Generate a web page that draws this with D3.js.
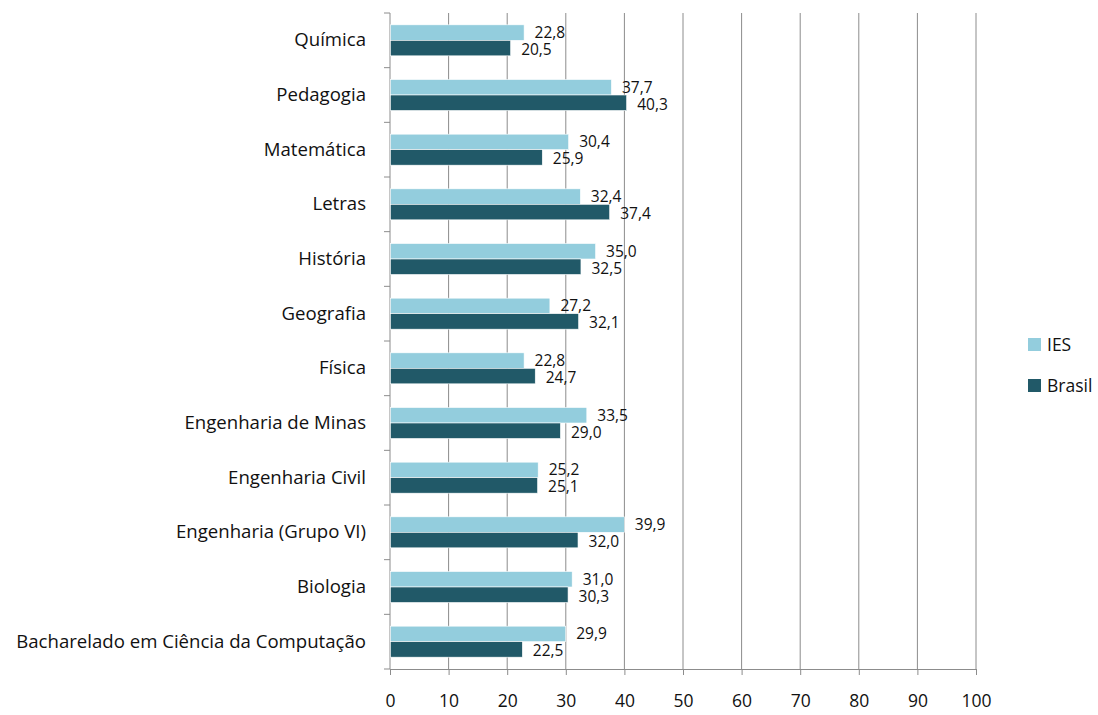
<!DOCTYPE html>
<html lang="pt">
<head>
<meta charset="utf-8">
<title>IES x Brasil</title>
<script src="https://cdn.jsdelivr.net/npm/d3@7"></script>
<style>
  body { margin: 0; background: #fff; }
  svg text { font-family: "Open Sans", Lato, sans-serif; fill: #111; }
</style>
</head>
<body>
<div id="chart"></div>
<script>
// ---- data (top to bottom, as in the chart) ----
var categories = ["Química", "Pedagogia", "Matemática", "Letras", "História", "Geografia",
  "Física", "Engenharia de Minas", "Engenharia Civil", "Engenharia (Grupo VI)",
  "Biologia", "Bacharelado em Ciência da Computação"];
var seriesNames = ["IES", "Brasil"];
var iesValues    = [22.8, 37.7, 30.4, 32.4, 35.0, 27.2, 22.8, 33.5, 25.2, 39.9, 31.0, 29.9];
var brasilValues = [20.5, 40.3, 25.9, 37.4, 32.5, 32.1, 24.7, 29.0, 25.1, 32.0, 30.3, 22.5];
var xTicks = [0, 10, 20, 30, 40, 50, 60, 70, 80, 90, 100];
var colors = ["#93cddd", "#215968"];

var width = 1098, height = 715;
// note: "top" is taken by window.top, so use plot* names
var plotLeft = 390, plotRight = 976, plotTop = 13, plotBottom = 669;

var svg = d3.select("#chart").append("svg")
  .attr("width", width)
  .attr("height", height);

var x = d3.scaleLinear().domain([0, 100]).range([plotLeft, plotRight]);
var y = d3.scaleBand().domain(categories).range([plotTop, plotBottom])
  .paddingInner(0.433).paddingOuter(0.2165);
var ySub = d3.scaleBand().domain(seriesNames).range([0, y.bandwidth()]);
var color = d3.scaleOrdinal().domain(seriesNames).range(colors);

var ptBR = d3.formatLocale({ decimal: ",", thousands: ".", grouping: [3], currency: ["R$", ""] });
var fmt = ptBR.format(".1f");

// gridlines
svg.append("g").selectAll("line")
  .data(xTicks.slice(1))
  .enter().append("line")
  .attr("x1", function(d) { return x(d); })
  .attr("x2", function(d) { return x(d); })
  .attr("y1", plotTop)
  .attr("y2", plotBottom)
  .style("stroke", "#8c8c8c")
  .style("stroke-width", 1);

// x axis
var xAxis = svg.append("g")
  .attr("transform", "translate(0," + plotBottom + ")")
  .call(d3.axisBottom(x).tickValues(xTicks).tickSize(6).tickPadding(20).tickSizeOuter(0));
xAxis.select(".domain").style("stroke", "#8c8c8c");
xAxis.selectAll(".tick line").style("stroke", "#8c8c8c");
xAxis.selectAll("text").style("font-size", "17.5px").style("fill", "#111");

// y axis labels
var yAxis = svg.append("g")
  .attr("transform", "translate(" + plotLeft + ",0)")
  .call(d3.axisLeft(y).tickSize(0).tickPadding(24));
yAxis.select(".domain").remove();
yAxis.selectAll("text").style("font-size", "18.6px").style("fill", "#111");

// y axis line and boundary ticks
var bounds = d3.range(categories.length + 1).map(function(i) { return plotTop + i * y.step(); });
svg.append("g").selectAll("line")
  .data(bounds)
  .enter().append("line")
  .attr("x1", plotLeft - 6)
  .attr("x2", plotLeft)
  .attr("y1", function(d) { return d; })
  .attr("y2", function(d) { return d; })
  .style("stroke", "#8c8c8c");
svg.append("line")
  .attr("x1", plotLeft).attr("x2", plotLeft)
  .attr("y1", plotTop).attr("y2", plotBottom)
  .style("stroke", "#8c8c8c");

// bars
var rows = categories.map(function(c, i) {
  return { cat: c, vals: [
    { name: "IES", value: iesValues[i] },
    { name: "Brasil", value: brasilValues[i] }
  ]};
});

var groups = svg.append("g").selectAll("g")
  .data(rows)
  .enter().append("g")
  .attr("transform", function(d) { return "translate(0," + y(d.cat) + ")"; });

groups.selectAll("rect")
  .data(function(d) { return d.vals; })
  .enter().append("rect")
  .attr("x", x(0) + 0.5)
  .attr("y", function(d) { return ySub(d.name); })
  .attr("width", function(d) { return x(d.value) - x(0); })
  .attr("height", ySub.bandwidth())
  .style("fill", function(d) { return color(d.name); })
  .style("stroke", "#ffffff")
  .style("stroke-width", 0.6);

groups.selectAll("text.val")
  .data(function(d) { return d.vals; })
  .enter().append("text")
  .attr("class", "val")
  .attr("x", function(d) { return x(d.value) + 11; })
  .attr("y", function(d) { return ySub(d.name) + ySub.bandwidth() / 2 + (d.name === "IES" ? 0 : 1.5); })
  .attr("dy", "0.35em")
  .style("font-size", "15.5px")
  .text(function(d) { return fmt(d.value); });

// legend
var legend = svg.append("g").selectAll("g")
  .data(seriesNames)
  .enter().append("g")
  .attr("transform", function(d, i) { return "translate(1028," + (338 + i * 41) + ")"; });
legend.append("rect")
  .attr("width", 13)
  .attr("height", 13)
  .style("fill", function(d) { return color(d); });
legend.append("text")
  .attr("x", 19)
  .attr("y", 7)
  .attr("dy", "0.35em")
  .style("font-size", "17.5px")
  .text(function(d) { return d; });
</script>
</body>
</html>
